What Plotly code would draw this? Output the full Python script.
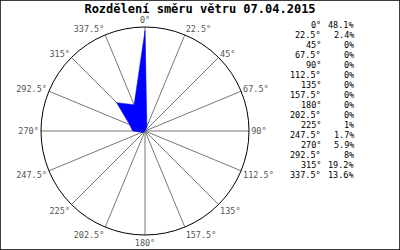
import plotly.graph_objects as go

title = "Rozdělení směru větru 07.04.2015"
directions = [0, 22.5, 45, 67.5, 90, 112.5, 135, 157.5, 180, 202.5, 225, 247.5, 270, 292.5, 315, 337.5]
dir_labels = ["0°", "22.5°", "45°", "67.5°", "90°", "112.5°", "135°", "157.5°", "180°",
              "202.5°", "225°", "247.5°", "270°", "292.5°", "315°", "337.5°"]
values = [48.1, 2.4, 0, 0, 0, 0, 0, 0, 0, 0, 1, 1.7, 5.9, 8, 19.2, 13.6]
value_labels = ["48.1%", "2.4%", "0%", "0%", "0%", "0%", "0%", "0%", "0%", "0%",
                "1%", "1.7%", "5.9%", "8%", "19.2%", "13.6%"]

mono = "DejaVu Sans Mono"
W, H = 400, 250

fig = go.Figure()
fig.add_trace(go.Scatterpolar(
    r=values + [values[0]],
    theta=directions + [directions[0]],
    mode="lines",
    fill="toself",
    fillcolor="#0000ff",
    line=dict(color="#0000ff", width=0.5),
    hoverinfo="skip",
))

annotations = []
for i, (d, v) in enumerate(zip(dir_labels, value_labels)):
    y = 25 + i * 10
    annotations.append(dict(x=323 / W, y=1 - y / H, xref="paper", yref="paper",
                            text=d, showarrow=False, xanchor="right", yanchor="middle",
                            font=dict(family=mono, size=8.5, color="black")))
    annotations.append(dict(x=356 / W, y=1 - y / H, xref="paper", yref="paper",
                            text=v, showarrow=False, xanchor="right", yanchor="middle",
                            font=dict(family=mono, size=8.5, color="black")))

cx, cy, R = 145, 131, 104
fig.update_layout(
    width=W, height=H,
    margin=dict(l=0, r=0, t=0, b=0),
    paper_bgcolor="white",
    showlegend=False,
    title=dict(text="<b>" + title + "</b>", x=0.5, xanchor="center", y=1 - 9 / H, yanchor="middle",
               font=dict(family=mono, size=12, color="black")),
    polar=dict(
        domain=dict(x=[(cx - R) / W, (cx + R) / W], y=[(H - cy - R) / H, (H - cy + R) / H]),
        bgcolor="white",
        angularaxis=dict(
            direction="clockwise", rotation=90,
            tickmode="array", tickvals=directions, ticktext=dir_labels,
            showline=True, linecolor="black", linewidth=1,
            showgrid=True, gridcolor="#777777", gridwidth=1,
            ticks="", tickfont=dict(family=mono, size=8.5, color="#555555"),
        ),
        radialaxis=dict(range=[0, 49.8], visible=False, showgrid=False),
    ),
    shapes=[dict(type="rect", xref="paper", yref="paper", x0=0, y0=0, x1=1, y1=1,
                 line=dict(color="black", width=1.5))],
    annotations=annotations,
)

fig.write_html("out.html")
